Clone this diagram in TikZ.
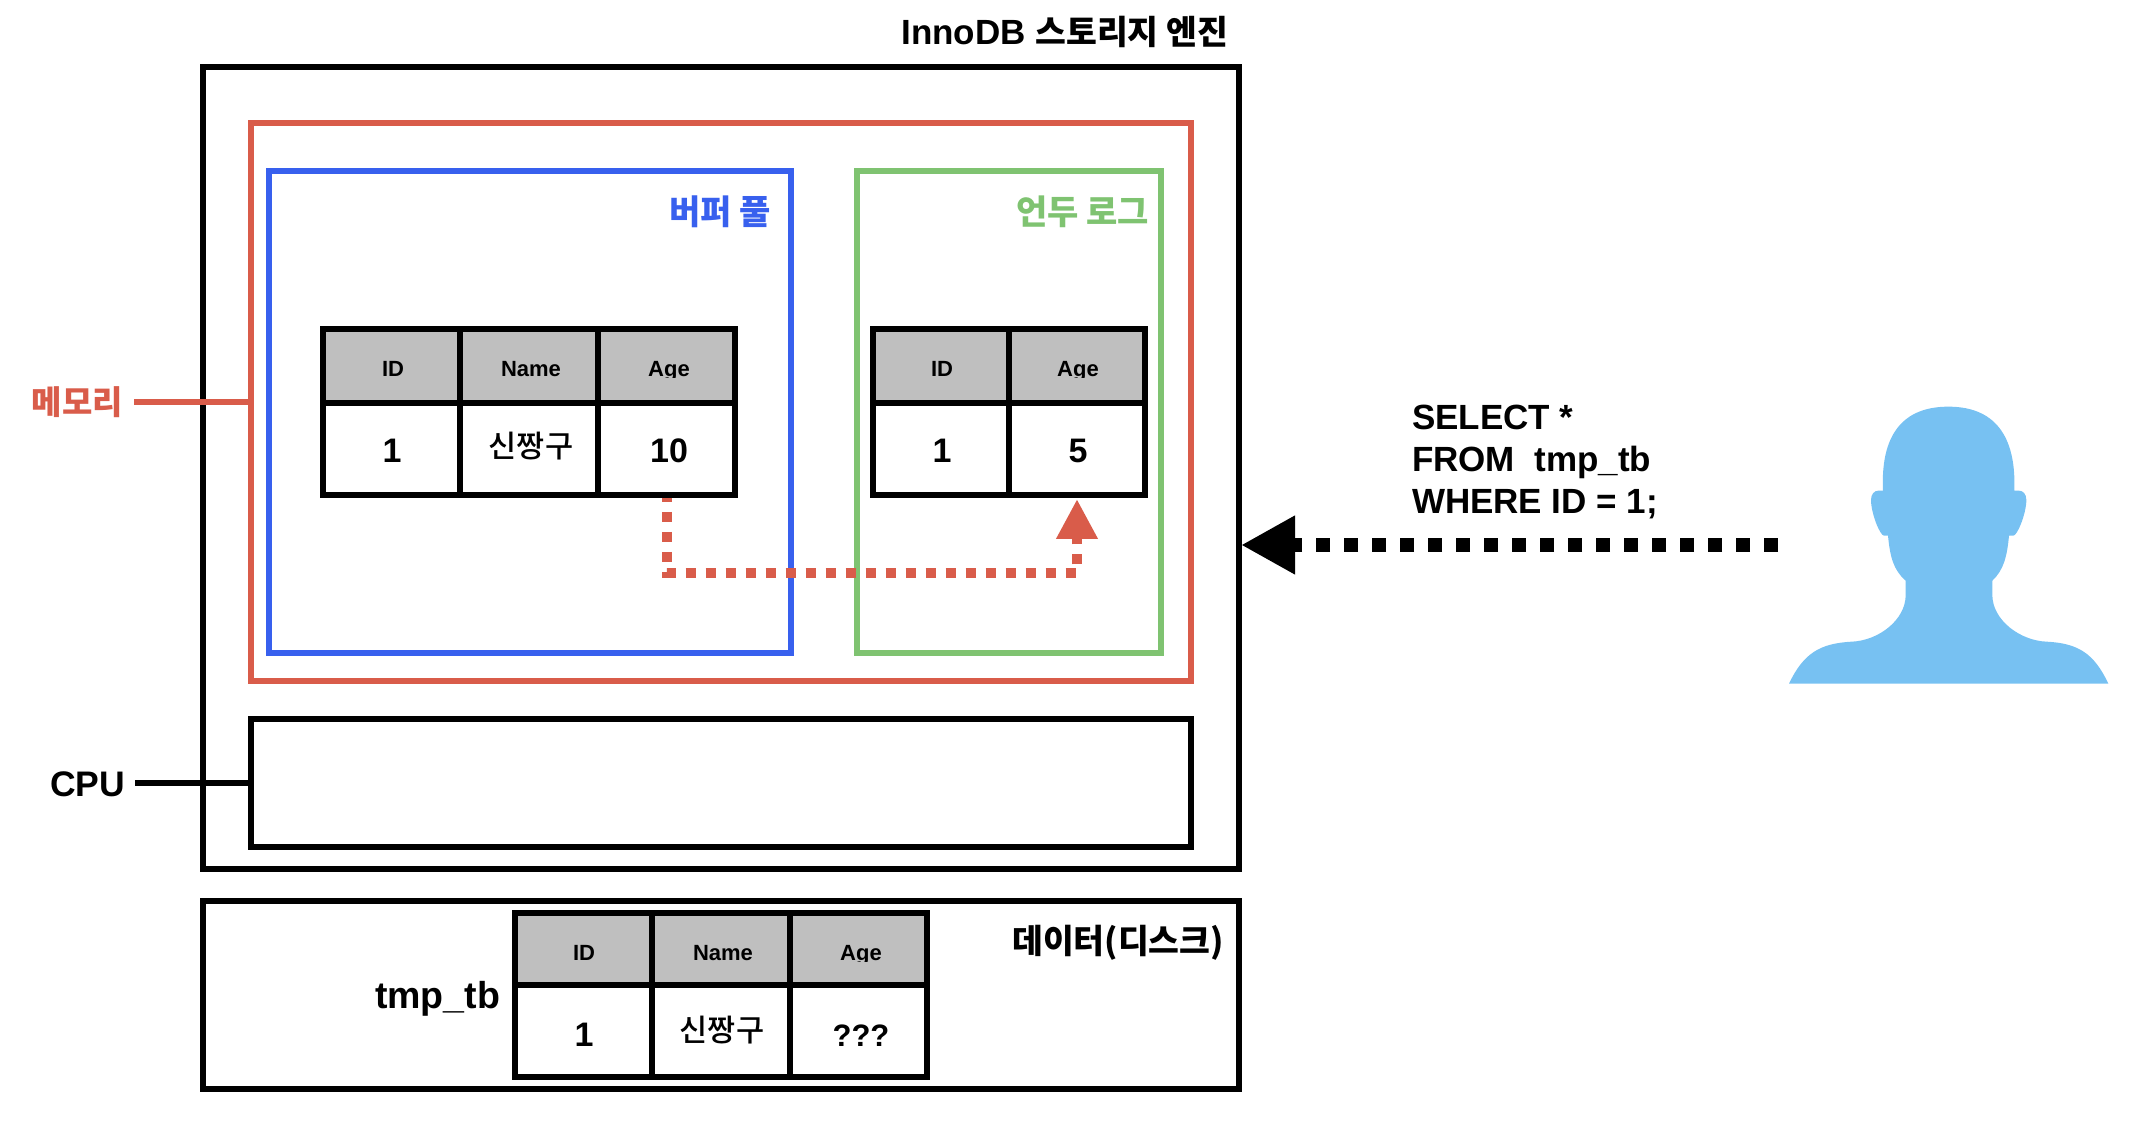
\documentclass[tikz,border=0pt]{standalone}
\usepackage{fontspec}
\setmainfont{Liberation Sans}
\newfontfamily\kr{Noto Sans CJK KR}
\newfontfamily\krm{Noto Sans CJK KR Medium}
\usetikzlibrary{arrows.meta,calc}
\definecolor{memred}{HTML}{D95C4A}
\definecolor{bufblue}{HTML}{3860EE}
\definecolor{undogreen}{HTML}{7FC371}
\definecolor{hdrgray}{HTML}{BFBFBF}
\definecolor{userblue}{HTML}{77C1F2}
\tikzset{
  frame/.style={rectangle,draw,line width=3pt,inner sep=0pt,outer sep=0pt},
  hcell/.style={frame,fill=hdrgray,minimum height=#1},
  vcell/.style={frame,fill=white,minimum height=46pt},
  lbl/.style={inner sep=0pt,outer sep=0pt,font=\fontsize{17.75}{21}\selectfont\bfseries},
  krl/.style={lbl,font=\fontsize{17}{21}\selectfont\kr\bfseries},
  htxt/.style={inner sep=0pt,outer sep=0pt,anchor=base,font=\fontsize{11}{13}\selectfont\bfseries},
  vtxt/.style={inner sep=0pt,outer sep=0pt,anchor=base,font=\fontsize{17}{20}\selectfont\bfseries},
  ktxt/.style={inner sep=0pt,outer sep=0pt,anchor=base,font=\fontsize{15.3}{18}\selectfont\krm},
}
\newcommand{\clippedage}[3]{\begin{scope}\clip (#2-40,#3-24) rectangle (#2+40,#3+1);\node[htxt] (#1) at (#2,#3) {Age};\end{scope}}
\begin{document}
\begin{tikzpicture}[x=0.5pt,y=-0.5pt]
\useasboundingbox (0,0) rectangle (2132,1138);
% frames
\node[frame,minimum width=518pt,minimum height=401pt] (engine) at (721,468) {};
\node[frame,draw=memred,minimum width=470pt,minimum height=279pt] (memory) at (721,402) {};
\node[frame,draw=bufblue,minimum width=261pt,minimum height=241pt] (buffer) at (530,412) {};
\node[frame,draw=undogreen,minimum width=152pt,minimum height=241pt] (undo) at (1009,412) {};
\node[frame,minimum width=470pt,minimum height=64pt] (cpu) at (721,783) {};
\node[frame,minimum width=518pt,minimum height=94pt] (disk) at (721,995) {};
% frame labels
\node[lbl,anchor=base east,font=\fontsize{17.5}{21}\selectfont\bfseries] (enginelabel) at (1228,45) {InnoDB {\kr\fontsize{16.75}{21}\selectfont 스토리지 엔진}};
\node[krl,anchor=base east,text=bufblue] (bufferlabel) at (771,225) {버퍼 풀};
\node[krl,anchor=base east,text=undogreen] (undolabel) at (1149,225) {언두 로그};
\node[krl,anchor=base east,text=memred,font=\fontsize{16.5}{21}\selectfont\kr\bfseries] (memlabel) at (123,415) {메모리};
\node[lbl,anchor=base east] (cpulabel) at (125,797) {CPU};
\node[krl,anchor=base east,font=\fontsize{16.75}{21}\selectfont\kr\bfseries] (disklabel) at (1224,953) {데이터(디스크)};
\node[lbl,anchor=base east,font=\fontsize{18.75}{21}\selectfont\bfseries] (tmplabel) at (500,1008) {tmp\_tb};
% label connectors
\draw[memred,line width=3pt,shorten <=5.5pt,yshift=-0.5pt] (memlabel.east |- memory.west) -- (memory.west);
\draw[black,line width=3pt,shorten <=5pt] (cpulabel.east |- cpu.west) -- (cpu.west);
% buffer pool table
\node[minimum width=68.5pt,hcell=37pt] (bid) at (391.5,366) {};
\node[minimum width=69pt,hcell=37pt] (bname) at (529,366) {};
\node[minimum width=68.5pt,hcell=37pt] (bage) at (666.5,366) {};
\node[minimum width=68.5pt,vcell] (bvid) at (391.5,449) {};
\node[minimum width=69pt,vcell] (bvname) at (529,449) {};
\node[minimum width=68.5pt,vcell] (bvage) at (666.5,449) {};
% undo log table
\node[minimum width=68pt,hcell=37pt] (uid) at (941,366) {};
\node[minimum width=68pt,hcell=37pt] (uage) at (1077,366) {};
\node[minimum width=68pt,vcell] (uvid) at (941,449) {};
\node[minimum width=68pt,vcell] (uvage) at (1077,449) {};
% disk table
\node[minimum width=68.75pt,hcell=36pt] (did) at (583.25,949) {};
\node[minimum width=69pt,hcell=36pt] (dname) at (721,949) {};
\node[minimum width=68.5pt,hcell=36pt] (dage) at (858.5,949) {};
\node[minimum width=68.75pt,vcell] (dvid) at (583.25,1031) {};
\node[minimum width=69pt,vcell] (dvname) at (721,1031) {};
\node[minimum width=68.5pt,vcell] (dvage) at (858.5,1031) {};
% undo copy connector
\draw[memred,line width=5pt,dash pattern=on 5pt off 5pt,dash phase=1.5pt,
      -{Triangle[length=20pt,width=19.5pt]},shorten >=2pt]
  (bvage.south) -- ++(0,78) -| (uvage.south);
% table bottom rule over the connector start
\draw[line width=3pt] (bvage.south west) -- (bvage.south east);
% table texts
\node[htxt] (t1) at (393,377) {ID};
\node[htxt] (t2) at (531,377) {Name};
\clippedage{t3}{669}{377}
\node[vtxt] (t4) at (392,463) {1};
\node[ktxt] (t5) at (531,458) {신짱구};
\node[vtxt] (t6) at (669,463) {10};
\node[htxt] (t7) at (942,377) {ID};
\clippedage{t8}{1078}{377}
\node[vtxt] (t9) at (942,463) {1};
\node[vtxt] (t10) at (1078,463) {5};
\node[htxt] (t11) at (584,960) {ID};
\node[htxt] (t12) at (723,960) {Name};
\clippedage{t13}{861}{960}
\node[vtxt] (t14) at (584,1046) {1};
\node[ktxt] (t15) at (722,1041) {신짱구};
\node[vtxt,font=\fontsize{15.5}{20}\selectfont\bfseries] (t16) at (861,1046) {???};
% query
\node[lbl,anchor=north west,align=left,font=\fontsize{17.5}{21}\selectfont\bfseries] (query) at (1412,405) {SELECT *\\FROM\ \ tmp\_tb\\WHERE ID = 1;};
% user
\coordinate (userend) at (1778,545);
\draw[black,line width=7pt,dash pattern=on 7pt off 7pt,
      -{Triangle[length=27pt,width=27.5pt]},shorten >=1pt]
  (userend) -- (userend -| engine.east);
\begin{scope}[shift={(1780,390)},x=0.16667pt,y=-0.16667pt]
\fill[userblue] (27,881)
  .. controls (70,790) and (120,760) .. (215,755)
  .. controls (295,752) and (377,690) .. (377,615)
  -- (377,572)
  .. controls (340,540) and (330,500) .. (324,437)
  -- (312,437)
  .. controls (300,437) and (273,370) .. (273,330)
  .. controls (273,312) and (283,302) .. (295,302)
  -- (309,302)
  .. controls (300,110) and (390,50) .. (505,50)
  .. controls (620,50) and (710,110) .. (703,302)
  -- (717,302)
  .. controls (729,302) and (739,312) .. (739,330)
  .. controls (739,370) and (712,437) .. (700,437)
  -- (687,437)
  .. controls (681,500) and (671,540) .. (637,572)
  -- (637,615)
  .. controls (637,690) and (720,752) .. (800,755)
  .. controls (895,760) and (942,790) .. (985,881)
  -- cycle;
\end{scope}
\end{tikzpicture}
\end{document}
